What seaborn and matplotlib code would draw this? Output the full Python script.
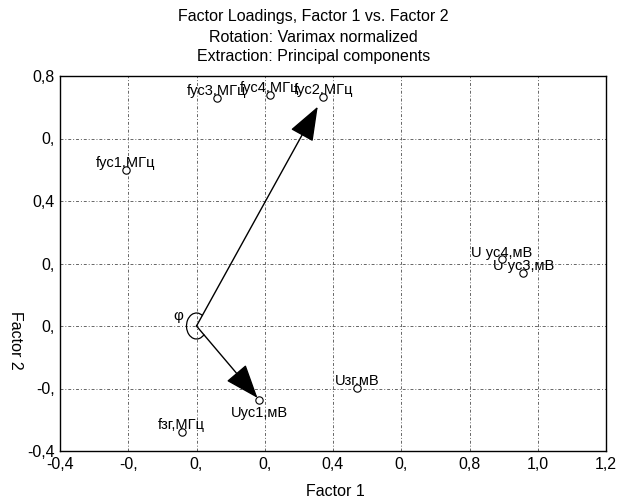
import numpy as np
import pandas as pd
import matplotlib
matplotlib.use("Agg")
import matplotlib.pyplot as plt
from matplotlib.patches import Arc
import seaborn as sns


# ---------------- DATA ----------------

labels = ["fус1,МГц", "fус2,МГц", "fус3,МГц", "fус4,МГц", "fзг,МГц",
          "Uус1,мВ", "U ус3,мВ", "U ус4,мВ", "Uзг,мВ"]
factor1 = [-0.207, 0.371, 0.059, 0.215, -0.043, 0.184, 0.958, 0.894, 0.470]
factor2 = [0.499, 0.733, 0.729, 0.739, -0.338, -0.237, 0.171, 0.213, -0.198]
below = ["Uус1,мВ"]

arrow_targets = ["fус2,МГц", "Uус1,мВ"]
arrow_shrink = [8, 2]

x_ticks = [-0.4, -0.2, 0.0, 0.2, 0.4, 0.6, 0.8, 1.0, 1.2]
x_ticklabels = ["-0,4", "-0,", "0,", "0,", "0,4", "0,", "0,8", "1,0", "1,2"]
y_ticks = [-0.4, -0.2, 0.0, 0.2, 0.4, 0.6, 0.8]
y_ticklabels = ["-0,4", "-0,", "0,", "0,", "0,4", "0,", "0,8"]

df = pd.DataFrame({"label": labels, "f1": factor1, "f2": factor2})


# ---------------- STYLE ----------------

sns.set_style("white")
plt.rcParams["font.family"] = ["Liberation Sans Narrow", "Liberation Sans", "DejaVu Sans"]
plt.rcParams["text.color"] = "black"
plt.rcParams["xtick.color"] = "black"
plt.rcParams["ytick.color"] = "black"

fig = plt.figure(figsize=(6.27, 5.0), dpi=100)
ax = fig.add_axes([60 / 627, 49 / 500, 546 / 627, 375 / 500])


# ---------------- PLOT ----------------

sns.scatterplot(data=df, x="f1", y="f2", ax=ax, s=28, marker="o",
                facecolor="white", edgecolor="black", linewidth=0.8, zorder=5)

for _, row in df.iterrows():
    if row["label"] in below:
        ax.annotate(row["label"], (row["f1"], row["f2"]), xytext=(0, -4),
                    textcoords="offset points", ha="center", va="top", fontsize=10.5)
    else:
        ax.annotate(row["label"], (row["f1"], row["f2"]), xytext=(0, 2),
                    textcoords="offset points", ha="center", va="baseline", fontsize=10.5)

# vectors from origin
for name, shrink in zip(arrow_targets, arrow_shrink):
    row = df[df["label"] == name].iloc[0]
    ax.annotate("", xy=(row["f1"], row["f2"]), xytext=(0, 0),
                arrowprops=dict(arrowstyle="-|>,head_length=1.2,head_width=0.45",
                                mutation_scale=18, color="black", lw=1.0,
                                shrinkA=0, shrinkB=shrink),
                zorder=4)

# angle between the vectors
ang = []
for name in arrow_targets:
    row = df[df["label"] == name].iloc[0]
    ang.append(np.degrees(np.arctan2(row["f2"] * 312.5, row["f1"] * 341.25)))
ax.add_patch(Arc((0, 0), 20 / 341.25, 26 / 312.5, theta1=ang[0], theta2=360 + ang[1],
                 color="black", lw=0.9))
ax.text(-0.054, 0.032, "φ", fontsize=11, ha="center", va="center")


# ---------------- AXES ----------------

ax.set_xlim(-0.4, 1.2)
ax.set_ylim(-0.4, 0.8)
ax.set_xticks(x_ticks)
ax.set_xticklabels(x_ticklabels)
ax.set_yticks(y_ticks)
ax.set_yticklabels(y_ticklabels)
ax.tick_params(length=0, labelsize=11.5, pad=4)
ax.grid(True, color="0.4", linestyle=(0, (3, 2, 1, 2)), linewidth=0.7)

for spine in ax.spines.values():
    spine.set_color("black")
    spine.set_linewidth(1.0)

ax.set_xlabel("")
ax.set_ylabel("")
fig.text(335 / 627, 1 - 492 / 500, "Factor 1", ha="center", va="center", fontsize=11.5)
fig.text(15 / 627, 1 - 340 / 500, "Factor 2", ha="center", va="center",
         rotation=270, fontsize=11.5)

fig.text(0.5, 1 - 17 / 500, "Factor Loadings, Factor 1 vs. Factor 2",
         ha="center", va="center", fontsize=11.5)
fig.text(0.5, 1 - 38 / 500, "Rotation: Varimax normalized",
         ha="center", va="center", fontsize=11.5)
fig.text(0.5, 1 - 57 / 500, "Extraction: Principal components",
         ha="center", va="center", fontsize=11.5)

plt.savefig("out.png", dpi=100)
plt.close()
